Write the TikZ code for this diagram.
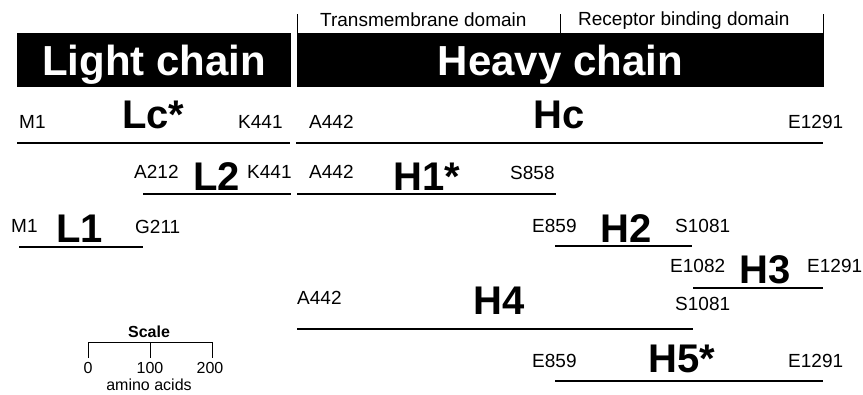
\documentclass[tikz,border=0pt]{standalone}
\usepackage{fontspec}
\setmainfont{Liberation Sans}
\usepackage{tikz}
\usetikzlibrary{calc}
\tikzstyle{chainbar} = [rectangle, fill=black, text=white, inner sep=0pt,
    font=\fontsize{42}{46}\selectfont\bfseries, minimum height=54pt,
    text height=30pt, text depth=0pt]
\tikzstyle{domlabel} = [anchor=base west, inner sep=0pt, font=\fontsize{19}{22}\selectfont]
\tikzstyle{resid} = [anchor=base west, inner sep=0pt, font=\fontsize{19}{22}\selectfont]
\tikzstyle{fragname} = [anchor=base west, inner sep=0pt, font=\fontsize{40}{44}\selectfont\bfseries]
\tikzstyle{frag} = [draw, line width=1.6pt]
\tikzstyle{tickline} = [draw, line width=0.8pt]

\begin{document}
\begin{tikzpicture}[x=1pt, y=-1pt]
    \useasboundingbox (0,0) rectangle (863,394);
    % chains
    \node [chainbar, minimum width=274pt] (light) at (154,60) {Light chain};
    \node [chainbar, minimum width=527pt] (heavy) at (560.5,60) {Heavy chain};
    % domains
    \coordinate (d0t) at (297,14); \coordinate (d0b) at (297,33);
    \coordinate (d1t) at (560,14); \coordinate (d1b) at (560,33);
    \coordinate (d2t) at (823,14); \coordinate (d2b) at (823,33);
    \node [domlabel] (tmd) at (320,26) {Transmembrane domain};
    \node [domlabel] (rbd) at (578,25) {Receptor binding domain};
    \path[tickline] (d0t) -- (d0b);
    \path[tickline] (d1t) -- (d1b);
    \path[tickline] (d2t) -- (d2b);

    % fragment labels
    \node [resid] (lcM) at (19,128) {M1};
    \node [fragname] (lc) at (122,128) {Lc*};
    \node [resid] (lcK) at (238,128) {K441};
    \node [resid] (hcA) at (309,128) {A442};
    \node [fragname] (hc) at (533,128) {Hc};
    \node [resid] (hcE) at (788,128) {E1291};

    \node [resid] (ltwoA) at (134,178) {A212};
    \node [fragname] (ltwo) at (193,190) {L2};
    \node [resid] (ltwoK) at (247,178) {K441};
    \node [resid] (honeA) at (309,178) {A442};
    \node [fragname] (hone) at (393,190) {H1*};
    \node [resid] (honeS) at (510,179) {S858};

    \node [resid] (loneM) at (11,232) {M1};
    \node [fragname] (lone) at (56,242) {L1};
    \node [resid] (loneG) at (135,233) {G211};
    \node [resid] (htwoE) at (532,232) {E859};
    \node [fragname] (htwo) at (600,242) {H2};
    \node [resid] (htwoS) at (675,232) {S1081};

    \node [resid] (hthreeE) at (670,272) {E1082};
    \node [fragname] (hthree) at (739,283) {H3};
    \node [resid] (hthreeF) at (807,272) {E1291};

    \node [resid] (hfourA) at (297,304) {A442};
    \node [fragname] (hfour) at (473,314) {H4};
    \node [resid] (hfourS) at (675,310) {S1081};

    \node [resid] (hfiveE) at (532,367) {E859};
    \node [fragname] (hfive) at (648,372) {H5*};
    \node [resid] (hfiveF) at (788,367) {E1291};

    % fragment extents
    \coordinate (lc1) at (17,143);  \coordinate (lc2) at (290,143);
    \coordinate (hc1) at (296,143); \coordinate (hc2) at (823,143);
    \coordinate (ltwo1) at (143,194); \coordinate (ltwo2) at (291,194);
    \coordinate (hone1) at (297,194); \coordinate (hone2) at (556,194);
    \coordinate (lone1) at (19,247);  \coordinate (lone2) at (143,247);
    \coordinate (htwo1) at (555,246); \coordinate (htwo2) at (692,246);
    \coordinate (hthree1) at (693,288); \coordinate (hthree2) at (823,288);
    \coordinate (hfour1) at (297,329); \coordinate (hfour2) at (693,329);
    \coordinate (hfive1) at (555,381); \coordinate (hfive2) at (823,381);
    \path[frag] (lc1) -- (lc2);
    \path[frag] (hc1) -- (hc2);
    \path[frag] (ltwo1) -- (ltwo2);
    \path[frag] (hone1) -- (hone2);
    \path[frag] (lone1) -- (lone2);
    \path[frag] (htwo1) -- (htwo2);
    \path[frag] (hthree1) -- (hthree2);
    \path[frag] (hfour1) -- (hfour2);
    \path[frag] (hfive1) -- (hfive2);

    % scale bar
    \node [anchor=base, inner sep=0pt, font=\fontsize{16}{18}\selectfont\bfseries] (scale) at (149,337) {Scale};
    \coordinate (s0) at (88,342);  \coordinate (s0b) at (88,358);
    \coordinate (s1) at (150,342); \coordinate (s1b) at (150,358);
    \coordinate (s2) at (212,342); \coordinate (s2b) at (212,358);
    \path[tickline] (s0b) -- (s0) -- (s2) -- (s2b);
    \path[tickline] (s1) -- (s1b);
    \node [anchor=base, inner sep=0pt, font=\fontsize{16}{18}\selectfont] (szero) at (88,373) {0};
    \node [anchor=base, inner sep=0pt, font=\fontsize{16}{18}\selectfont] (sone) at (150,373) {100};
    \node [anchor=base, inner sep=0pt, font=\fontsize{16}{18}\selectfont] (stwo) at (210,373) {200};
    \node [anchor=base, inner sep=0pt, font=\fontsize{16}{18}\selectfont] (units) at (149,390) {amino acids};
\end{tikzpicture}
\end{document}
